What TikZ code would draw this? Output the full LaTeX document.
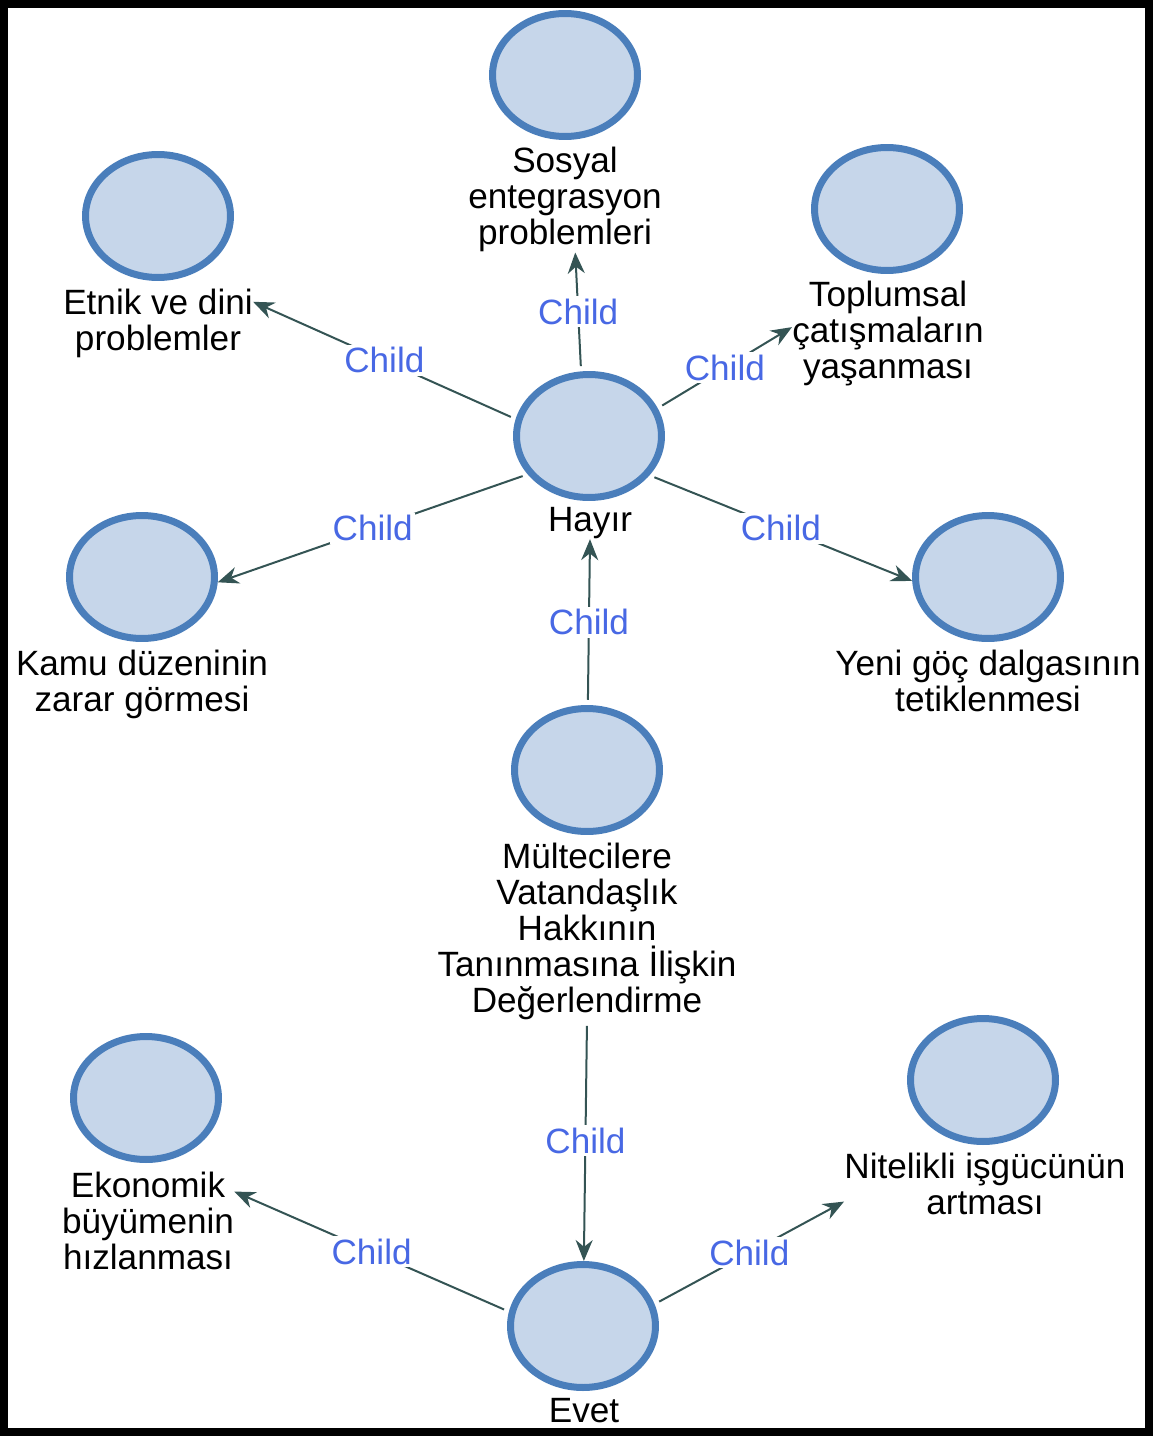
\documentclass[tikz,border=0pt]{standalone}
\usepackage{fontspec}
\setmainfont{Liberation Sans}
\usetikzlibrary{shapes.geometric,arrows.meta}
\definecolor{circborder}{RGB}{74,126,187}
\definecolor{circfill}{RGB}{198,214,234}
\definecolor{edgecol}{RGB}{52,84,84}
\definecolor{childblue}{RGB}{72,104,228}
\begin{document}
\begin{tikzpicture}[x=0.02cm,y=-0.02cm,
   circ/.style={ellipse,draw=circborder,fill=circfill,line width=0.14cm,minimum width=2.9cm,minimum height=2.46cm,inner sep=0pt},
   txt/.style={font=\fontsize{20}{20.5}\selectfont,align=center,inner sep=0pt,anchor=north},
   rel/.style={draw=edgecol,line width=0.04cm,shorten <=3pt,-{Stealth[length=0.42cm,width=0.34cm]}},
   childlbl/.style={font=\fontsize{20}{20.5}\selectfont,text=childblue,fill=white,inner sep=1.5pt}]

   \useasboundingbox (0,0) rectangle (1154,1436);
   \draw[line width=0.16cm] (4,4) rectangle (1149,1432);

	% circles
	\node[circ] (sosyal) at (565,75) {};
	\node[circ] (etnik) at (158,216) {};
	\node[circ] (toplum) at (887,209) {};
	\node[circ] (hayir) at (589,436) {};
	\node[circ] (kamu) at (142,577) {};
	\node[circ] (yeni) at (988,577) {};
	\node[circ] (multeci) at (587,770) {};
	\node[circ] (ekonomik) at (146,1098) {};
	\node[circ] (nitelikli) at (983,1080) {};
	\node[circ] (evet) at (583,1326) {};

	% texts
	\node[txt] (sosyaltxt) at (565,147) {Sosyal\\entegrasyon\\problemleri};
	\node[txt] (etniktxt) at (158,289) {Etnik ve dini\\problemler};
	\node[txt] (toplumtxt) at (888,281) {Toplumsal\\çatışmaların\\yaşanması};
	\node[txt] (hayirtxt) at (590,507) {Hayır};
	\node[txt] (kamutxt) at (142,650) {Kamu düzeninin\\zarar görmesi};
	\node[txt] (yenitxt) at (988,650) {Yeni göç dalgasının\\tetiklenmesi};
	\node[txt] (multecitxt) at (587,843) {Mültecilere\\Vatandaşlık\\Hakkının\\Tanınmasına İlişkin\\Değerlendirme};
	\node[txt] (ekonomiktxt) at (148,1172) {Ekonomik\\büyümenin\\hızlanması};
	\node[txt] (nitelikiltxt) at (985,1153) {Nitelikli işgücünün\\artması};
	\node[txt] (evettxt) at (584,1398) {Evet};

	% connectors
	\draw[rel] (hayir.97) -- (sosyaltxt.281) node[midway,childlbl] {Child};
	\draw[rel] (hayir.167) -- (etniktxt.13) node[midway,childlbl] {Child};
	\draw[rel] (hayir.22) -- (toplumtxt.176) node[midway,childlbl] {Child};
	\draw[rel] (hayir.212) -- (kamu.356) node[midway,childlbl] {Child};
	\draw[rel] (hayir.327) -- (yeni.183) node[midway,childlbl] {Child};
	\draw[rel] (multeci) -- (hayirtxt.south) node[midway,childlbl] {Child};
	\draw[rel] (multecitxt.south) -- (evet) node[midway,childlbl] {Child};
	\draw[rel] (evet.169) -- (ekonomiktxt.19) node[midway,childlbl] {Child};
	\draw[rel] (evet.17) -- (nitelikiltxt.187) node[midway,childlbl] {Child};

\end{tikzpicture}
\end{document}
